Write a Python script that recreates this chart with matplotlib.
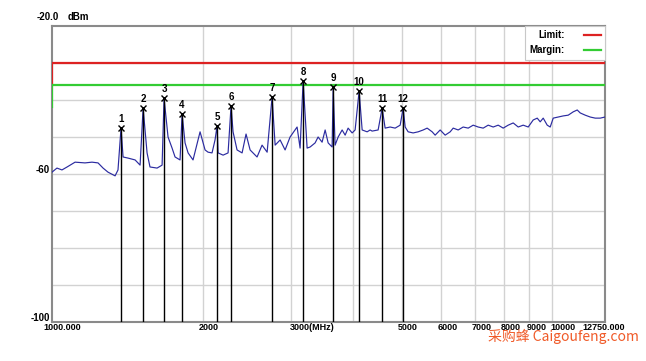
import matplotlib
matplotlib.use('Agg')
import matplotlib.pyplot as plt
from matplotlib import transforms

# spectrum trace, MHz / dBm
freq = [1000, 1023, 1047, 1072, 1112, 1164, 1202, 1236, 1265, 1294, 1337, 1355,
        1374, 1387, 1419, 1466, 1500, 1521, 1549, 1570, 1622, 1660, 1675, 1706,
        1738, 1762, 1803, 1820, 1845, 1871, 1914, 1977, 2023, 2051, 2089, 2118,
        2138, 2148, 2198, 2249, 2280, 2301, 2344, 2399, 2443, 2489, 2570, 2630,
        2692, 2754, 2793, 2858, 2924, 2992, 3090, 3133, 3177, 3236, 3281, 3357,
        3404, 3467, 3516, 3565, 3631, 3648, 3681, 3733, 3802, 3855, 3908, 3981,
        4036, 4111, 4169, 4266, 4325, 4365, 4487, 4571, 4634, 4742, 4853, 4966,
        5035, 5082, 5152, 5272, 5395, 5521, 5623, 5754, 5834, 5970, 6109, 6252,
        6339, 6486, 6637, 6792, 6950, 7112, 7278, 7447, 7621, 7798, 7980, 8166,
        8356, 8551, 8750, 8954, 9162, 9333, 9462, 9594, 9772, 9908, 10046, 10280,
        10520, 10765, 11015, 11220, 11376, 11641, 11912, 12190, 12474, 12750]
level = [-59.5, -58.4, -58.9, -58.1, -56.8, -57.0, -56.8, -57.0, -58.4, -59.5, -60.5, -58.9,
         -47.6, -55.4, -55.7, -56.2, -57.6, -42.2, -54.3, -58.1, -58.4, -57.6, -39.5, -50.0,
         -53.0, -55.4, -56.2, -43.8, -51.6, -54.3, -56.2, -48.6, -53.5, -54.1, -54.3, -50.8,
         -47.0, -54.3, -54.9, -54.3, -41.6, -48.6, -53.5, -54.3, -49.2, -53.5, -55.4, -52.2,
         -54.1, -39.2, -52.2, -50.8, -53.5, -50.0, -47.3, -53.0, -34.9, -53.0, -52.7, -51.6,
         -50.0, -51.4, -48.1, -51.6, -52.7, -36.5, -52.2, -50.0, -48.1, -49.5, -47.6, -48.9,
         -48.1, -37.6, -48.1, -48.6, -48.1, -48.4, -48.1, -42.2, -47.6, -47.3, -47.6, -46.8,
         -42.2, -47.3, -48.6, -48.9, -48.6, -48.1, -47.6, -48.6, -49.5, -48.1, -49.5, -48.6,
         -47.6, -48.1, -47.3, -47.6, -46.8, -47.3, -47.6, -46.8, -47.3, -46.8, -47.6, -46.8,
         -46.2, -47.3, -46.8, -47.3, -45.4, -44.9, -45.9, -44.9, -46.8, -47.3, -44.9, -44.6,
         -44.3, -44.1, -43.2, -42.7, -43.5, -44.1, -44.6, -44.9, -44.9, -44.6]

# markers
mk_num = [1, 2, 3, 4, 5, 6, 7, 8, 9, 10, 11, 12]
mk_freq = [1374, 1521, 1675, 1820, 2138, 2280, 2754, 3177, 3648, 4111, 4571, 5035]
mk_level = [-47.6, -42.2, -39.5, -43.8, -47.0, -41.6, -39.2, -34.9, -36.5, -37.6, -42.2, -42.2]

# limit / margin lines
line_freq = [1000, 1000, 12750]
limit_level = [-36, -30, -30]
margin_level = [-42, -36, -36]

xticks = [1000, 2000, 3000, 5000, 6000, 7000, 8000, 9000, 10000, 12750]
xlabels = ['1000.000', '2000', '3000(MHz)', '5000', '6000', '7000', '8000', '9000',
           '10000', '12750.000']
xgrid = [2000, 3000, 4000, 5000, 6000, 7000, 8000, 9000, 10000]
ygrid = [-30, -40, -50, -60, -70, -80, -90]
yticks = [-60, -100]
ylabels = ['-60', '-100']

FONT = 'Liberation Sans'
C = {'trace': '#2b2ba0', 'limit': '#dd2222', 'margin': '#33cc33',
     'grid': '#d2d2d2', 'spine': '#8a8a8a'}

fig = plt.figure(figsize=(6.46, 3.61), dpi=100)
ax = fig.add_axes([52/646, 39/361, 553/646, 296/361])
ax.set_xscale('log')
ax.set_xlim(1000, 12750)
ax.set_ylim(-100, -20)

for g in xgrid:
    ax.axvline(g, color=C['grid'], lw=1, zorder=1)
for g in ygrid:
    ax.axhline(g, color=C['grid'], lw=1, zorder=1)

ax.plot(line_freq, limit_level, color=C['limit'], lw=1.6, zorder=3, label='Limit:')
ax.plot(line_freq, margin_level, color=C['margin'], lw=1.6, zorder=3, label='Margin:')
ax.plot(freq, level, color=C['trace'], lw=0.85, zorder=4)

for n, f, v in zip(mk_num, mk_freq, mk_level):
    ax.plot([f, f], [v, -100], color='black', lw=1, zorder=5)
    ax.plot(f, v, marker='x', color='black', ms=5, mew=1, zorder=6)
    ax.annotate(str(n), (f, v), xytext=(0, 4), textcoords='offset pixels',
                ha='center', va='bottom', fontsize=7, fontweight='bold',
                family=FONT, zorder=6)

ax.set_xticks([])
ax.set_yticks([])
ax.minorticks_off()
for s in ax.spines.values():
    s.set_color(C['spine'])
    s.set_linewidth(1.5)

# x labels sit just right of their grid lines, like the analyzer software
xoffs = [-9, -4, -1, -4, -4, -3, -3, -3, -2, -23]
for t, lab, dx in zip(xticks, xlabels, xoffs):
    tr = transforms.offset_copy(ax.get_xaxis_transform(), fig=fig, x=dx, y=-1, units='dots')
    ax.text(t, 0, lab, transform=tr, ha='left', va='top', fontsize=6.5,
            fontweight='bold', family=FONT)

for t, lab in zip(yticks, ylabels):
    tr = transforms.offset_copy(ax.get_yaxis_transform(), fig=fig, x=-2, y=4, units='dots')
    ax.text(0, t, lab, transform=tr, ha='right', va='center', fontsize=7,
            fontweight='bold', family=FONT)

fig.text(37/646, 1 - 17/361, '-20.0', ha='left', va='center', fontsize=7,
         fontweight='bold', family=FONT)
fig.text(68/646, 1 - 17/361, 'dBm', ha='left', va='center', fontsize=7,
         fontweight='bold', family=FONT)

leg = ax.legend(loc='upper right', markerfirst=False, fancybox=False,
                edgecolor='#c8c8c8', framealpha=1, borderaxespad=0,
                handlelength=1.7, handletextpad=2.0, labelspacing=0.5,
                borderpad=0.45, prop={'family': FONT, 'weight': 'bold', 'size': 7})
leg.get_frame().set_linewidth(0.8)

fig.text(488/646, 1 - 336/361, '采购蜂 Caigoufeng.com', ha='left', va='center',
         fontsize=10, color='#f05a28', family=['Noto Sans CJK SC', 'DejaVu Sans'])

fig.savefig('out.png', dpi=100, facecolor='white')
